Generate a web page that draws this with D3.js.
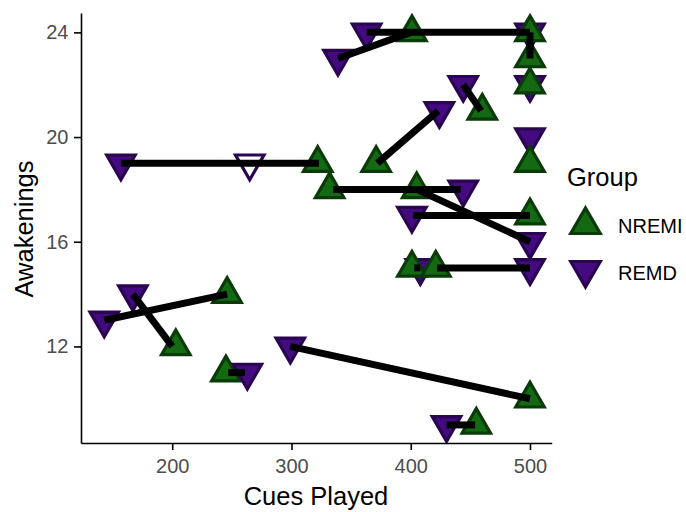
<!DOCTYPE html>
<html>
<head>
<meta charset="utf-8">
<script src="https://cdn.jsdelivr.net/npm/d3@7"></script>
<style>
  html, body { margin: 0; padding: 0; background: #fff; }
  svg { display: block; font-family: "Liberation Sans", Arial, sans-serif; }
</style>
</head>
<body>
<svg id="chart" width="686" height="512"></svg>
<script>
// ---- data ----
const groups = ["NREMI", "REMD"];
const xTicks = [200, 300, 400, 500];
const yTicks = [12, 16, 20, 24];

// points, in drawing order
const pointCues  = [157, 265, 339, 363, 500, 500, 424, 444, 500, 444, 401, 500, 500, 408, 299, 430, 143, 167,
                    322, 332, 401, 371, 460, 405, 500, 500, 500, 500, 500, 401, 421, 500, 455, 246, 203, 245,
                    263];
const pointAwak  = [19, 19, 23, 24, 24, 22, 21, 22, 20, 18, 17, 16, 15, 15, 12, 9, 13, 14,
                    19, 18, 24, 19, 21, 18, 24, 23, 22, 19, 17, 15, 15, 10, 9, 14, 12, 11,
                    11];
const pointGroup = ["REMD","REMD","REMD","REMD","REMD","REMD","REMD","REMD","REMD","REMD","REMD","REMD","REMD","REMD","REMD","REMD","REMD","REMD",
                    "NREMI","NREMI","NREMI","NREMI","NREMI","NREMI","NREMI","NREMI","NREMI","NREMI","NREMI","NREMI","NREMI","NREMI","NREMI","NREMI","NREMI","NREMI",
                    "REMD"];
const pointHollow = [false, true];  // only the 2nd point is drawn hollow

// connecting segments (subject pairs)
const segCues1 = [157, 339, 363, 500, 372, 444, 335, 405, 402, 403, 422, 299, 430, 143, 167, 247];
const segAwak1 = [19, 23, 24, 24, 19, 22, 18, 18, 17, 15, 15, 12, 9, 13, 14, 11];
const segCues2 = [323, 400, 500, 500, 423, 459, 442, 500, 500, 408, 500, 500, 454, 246, 200, 261];
const segAwak2 = [19, 24, 24, 23, 21, 21, 18, 16, 17, 15, 15, 10, 9, 14, 12, 11];

// ---- styling ----
const fills   = { NREMI: "#146a12", REMD: "#440a80" };
const strokes = { NREMI: "#0a3a08", REMD: "#2a0650" };

const svg = d3.select("#chart");
const x = d3.scaleLinear().domain([123.5, 518.2]).range([81, 551.7]);
const y = d3.scaleLinear().domain([8.31, 24.74]).range([443, 13]);

function triPath(up, s) {
  const h = s * Math.sqrt(3) / 2;
  const a = 2 * h / 3, b = h / 3;
  return up
    ? `M0,${-a}L${s/2},${b}L${-s/2},${b}Z`
    : `M0,${a}L${s/2},${-b}L${-s/2},${-b}Z`;
}
const S = 28.5;

// points
svg.append("g").selectAll("path")
  .data(pointCues.map((c, i) => ({ c, a: pointAwak[i], g: pointGroup[i], hollow: !!pointHollow[i] })))
  .join("path")
  .attr("transform", d => `translate(${x(d.c)},${y(d.a)})`)
  .attr("d", d => triPath(d.g === "NREMI", S))
  .attr("fill", d => d.hollow ? "#fff" : fills[d.g])
  .attr("stroke", d => strokes[d.g])
  .attr("stroke-width", 3.2)
  .attr("stroke-linejoin", "miter");

// segments
svg.append("g").selectAll("line")
  .data(segCues1.map((c, i) => ({ x1: c, y1: segAwak1[i], x2: segCues2[i], y2: segAwak2[i] })))
  .join("line")
  .attr("x1", d => x(d.x1)).attr("y1", d => y(d.y1))
  .attr("x2", d => x(d.x2)).attr("y2", d => y(d.y2))
  .attr("stroke", "#000").attr("stroke-width", 7).attr("stroke-linecap", "butt");

// axes
const xAxis = svg.append("g").attr("transform", "translate(0,443)")
  .call(d3.axisBottom(x).tickValues(xTicks).tickSize(7).tickSizeOuter(0).tickPadding(8.5));
const yAxis = svg.append("g").attr("transform", "translate(81,0)")
  .call(d3.axisLeft(y).tickValues(yTicks).tickSize(7).tickSizeOuter(0).tickPadding(5.5));
[xAxis, yAxis].forEach(ax => {
  ax.select(".domain").attr("stroke", "#000").attr("stroke-width", 1.6);
  ax.selectAll(".tick line").attr("stroke", "#000").attr("stroke-width", 1.6);
  ax.selectAll(".tick text").attr("fill", "#4d4d4d").style("font-size", "20px")
    .style("font-family", '"Liberation Sans", Arial, sans-serif');
});

// titles
svg.append("text").attr("x", 316).attr("y", 505).attr("text-anchor", "middle")
  .style("font-size", "25.5px").attr("fill", "#000").text("Cues Played");
svg.append("text").attr("transform", "translate(33,229) rotate(-90)").attr("text-anchor", "middle")
  .style("font-size", "25.5px").attr("fill", "#000").text("Awakenings");

// legend
svg.append("text").attr("x", 567).attr("y", 186).style("font-size", "25.5px").attr("fill", "#000").text("Group");
const legY = [225, 270];
const legText = [233, 280];
groups.forEach((g, i) => {
  svg.append("path").attr("transform", `translate(585.5,${legY[i]})`)
    .attr("d", triPath(g === "NREMI", S + 1))
    .attr("fill", fills[g]).attr("stroke", strokes[g]).attr("stroke-width", 3.2);
  svg.append("text").attr("x", 618).attr("y", legText[i]).style("font-size", "20px").attr("fill", "#000").text(g);
});
</script>
</body>
</html>
